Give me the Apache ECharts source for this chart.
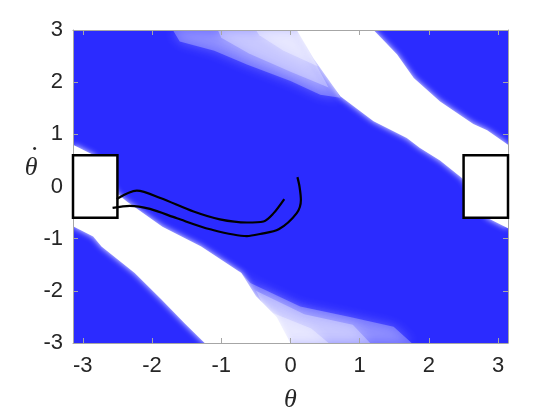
<!DOCTYPE html>
<html>
<head>
<meta charset="utf-8">
<script src="https://cdn.jsdelivr.net/npm/echarts@6/dist/echarts.min.js"></script>
<style>
  html, body { margin: 0; background: #fff; }
  #chart { width: 560px; height: 420px; }
</style>
</head>
<body>
<div id="chart"></div>
<script>
const PI = Math.PI
const tickValues = [-3, -2, -1, 0, 1, 2, 3]

// white bands of the region, [theta, thetaDot]
const upperBand = [[1.20, 3], [1.54, 2.53], [1.78, 2.08], [2.16, 1.63], [2.64, 1.2], [2.84, 1.08], [PI, 0.8], [PI, -0.8], [2.84, -0.6], [2.5, 0.12], [2.48, 0.16], [2.16, 0.5], [1.87, 0.74], [1.68, 0.93], [1.2, 1.25], [0.72, 1.73], [0.67, 1.82], [0.33, 2.46], [0.09, 3]]
const lowerBand = [[-PI, -0.76], [-2.85, -0.96], [-2.73, -1.15], [-2.25, -1.66], [-1.86, -2.17], [-1.53, -2.62], [-1.24, -3], [0, -3], [-0.05, -2.88], [-0.2, -2.5], [-0.5, -2.1], [-0.71, -1.66], [-1.29, -1.15], [-1.85, -0.77], [-2.36, -0.29], [-2.5, -0.14], [-2.84, 0.6], [-PI, 0.8]]

// faded parts near the top and bottom
const topFade1 = [[0.72, 1.7], [0.43, 1.76], [0, 2.02], [-0.63, 2.34], [-1.1, 2.6], [-1.6, 2.78], [-1.7, 3], [0.1, 3], [0.5, 2.2]]
const topFade2 = [[0.55, 1.9], [0, 2.2], [-0.6, 2.55], [-1.0, 2.85], [-1.05, 3], [0.1, 3]]
const topFade3 = [[0.4, 2.3], [-0.1, 2.6], [-0.45, 2.9], [-0.5, 3], [0.1, 3]]
const bottomFade1 = [[-0.75, -1.6], [-0.58, -1.85], [0.14, -2.3], [0.86, -2.5], [1.49, -2.69], [1.75, -3], [-0.1, -3], [-0.5, -2.2]]
const bottomFade2 = [[-0.5, -2.0], [0.2, -2.45], [0.9, -2.65], [1.15, -3], [-0.1, -3]]
const bottomFade3 = [[-0.3, -2.4], [0.3, -2.72], [0.55, -3], [-0.1, -3]]

// target boxes
const leftBox = [[-PI, -0.6], [-2.5, 0.6]]
const rightBox = [[2.5, -0.6], [PI, 0.6]]

// trajectories
const trajA = [[-2.51, -0.24], [-2.22, -0.08], [-1.88, -0.22], [-1.40, -0.48], [-1.02, -0.63], [-0.63, -0.69], [-0.39, -0.67], [-0.25, -0.52], [-0.09, -0.24]]
const trajB = [[-2.57, -0.41], [-2.32, -0.37], [-2.03, -0.43], [-1.64, -0.61], [-1.16, -0.82], [-0.63, -0.95], [-0.44, -0.91], [-0.17, -0.82], [0.09, -0.51], [0.15, -0.26], [0.13, 0], [0.10, 0.18]]

const axisColor = '#a6a6a6'
const labelFont = { fontFamily: 'Liberation Sans', fontSize: 22, color: '#262626' }
const nameFont = { fontFamily: 'Liberation Serif', fontStyle: 'italic', fontSize: 26, color: '#262626' }

function polySeries(points, opacity, blur) {
  return {
    type: 'custom',
    clip: true,
    silent: true,
    z: 2,
    data: [0],
    renderItem: (params, api) => ({
      type: 'polygon',
      shape: { points: points.map(p => api.coord(p)) },
      style: { fill: '#fff', opacity: opacity, shadowBlur: blur, shadowColor: '#fff' }
    })
  }
}

function boxSeries(box) {
  return {
    type: 'custom',
    clip: false,
    silent: true,
    z: 6,
    data: [0],
    renderItem: (params, api) => {
      const a = api.coord([box[0][0], box[1][1]])
      const b = api.coord([box[1][0], box[0][1]])
      return {
        type: 'rect',
        shape: { x: a[0], y: a[1], width: b[0] - a[0], height: b[1] - a[1] },
        style: { fill: '#fff', stroke: '#000', lineWidth: 2.5 }
      }
    }
  }
}

function lineSeries(points) {
  return {
    type: 'line',
    data: points,
    smooth: 0.3,
    showSymbol: false,
    silent: true,
    z: 7,
    lineStyle: { color: '#000', width: 2.2 }
  }
}

function xAxis(pos, withLabels) {
  return {
    type: 'value',
    position: pos,
    min: -PI,
    max: PI,
    z: 5,
    axisLine: { show: true, onZero: false, lineStyle: { color: axisColor, width: 1 } },
    axisTick: { show: true, inside: true, length: 5, customValues: tickValues, lineStyle: { color: axisColor } },
    axisLabel: Object.assign({ show: withLabels, customValues: tickValues, margin: 12 }, labelFont),
    splitLine: { show: false }
  }
}

function yAxis(pos, withLabels) {
  return {
    type: 'value',
    position: pos,
    min: -3,
    max: 3,
    z: 5,
    axisLine: { show: true, onZero: false, lineStyle: { color: axisColor, width: 1 } },
    axisTick: { show: true, inside: true, length: 5, customValues: tickValues, lineStyle: { color: axisColor } },
    axisLabel: Object.assign({ show: withLabels, customValues: tickValues, margin: 10 }, labelFont),
    splitLine: { show: false }
  }
}

const chart = echarts.init(document.getElementById('chart'))
const xBottom = xAxis('bottom', true)
xBottom.name = 'θ'
xBottom.nameLocation = 'middle'
xBottom.nameGap = 44
xBottom.nameTextStyle = nameFont
const yLeft = yAxis('left', true)
yLeft.name = '{d|·}\n{t|θ}'
yLeft.nameLocation = 'middle'
yLeft.nameRotate = 0
yLeft.nameGap = 40
yLeft.nameTextStyle = {
  align: 'center',
  padding: [0, 0, 46, 0],
  rich: {
    d: Object.assign({ lineHeight: 10, padding: [0, 0, 0, 6] }, nameFont),
    t: Object.assign({ lineHeight: 26 }, nameFont)
  }
}

chart.setOption({
  animation: false,
  grid: { left: 73, right: 52, top: 30, bottom: 77, show: true, backgroundColor: '#2b2bff', borderWidth: 0 },
  xAxis: [xBottom, xAxis('top', false)],
  yAxis: [yLeft, yAxis('right', false)],
  series: [
    polySeries(topFade1, 0.28, 12),
    polySeries(topFade2, 0.3, 12),
    polySeries(topFade3, 0.35, 10),
    polySeries(bottomFade1, 0.28, 12),
    polySeries(bottomFade2, 0.3, 12),
    polySeries(bottomFade3, 0.35, 10),
    polySeries(upperBand, 1, 6),
    polySeries(lowerBand, 1, 6),
    boxSeries(leftBox),
    boxSeries(rightBox),
    lineSeries(trajA),
    lineSeries(trajB)
  ]
})
</script>
</body>
</html>
